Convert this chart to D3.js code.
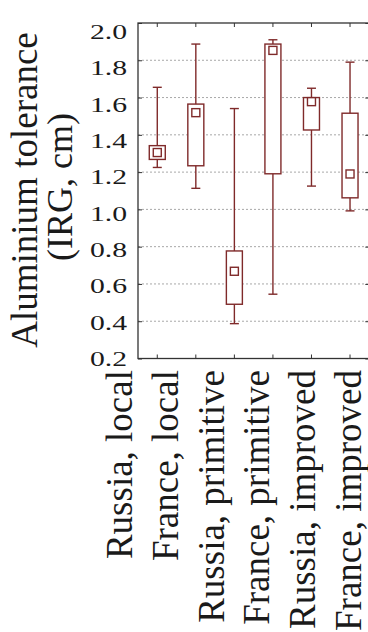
<!DOCTYPE html>
<html>
<head>
<meta charset="utf-8">
<script src="https://cdn.jsdelivr.net/npm/d3@7"></script>
<style>
  body { margin: 0; background: #fff; }
  svg { display: block; font-family: "Liberation Serif", "Times New Roman", serif; }
  svg text { font-family: "Liberation Serif", "Times New Roman", serif; }
</style>
</head>
<body>
<script>
// data
const groups = ["Russia, local", "France, local", "Russia, primitive", "France, primitive", "Russia, improved", "France, improved"];
const whiskerHigh = [1.655, 1.887, 1.541, 1.91, 1.65, 1.79];
const boxHigh = [1.342, 1.565, 0.777, 1.887, 1.60, 1.516];
const medians = [1.305, 1.519, 0.668, 1.853, 1.578, 1.19];
const boxLow = [1.268, 1.234, 0.491, 1.191, 1.426, 1.062];
const whiskerLow = [1.225, 1.113, 0.387, 0.545, 1.125, 0.992];
const yTicks = [0.2, 0.4, 0.6, 0.8, 1.0, 1.2, 1.4, 1.6, 1.8, 2.0];

const width = 368, height = 632;
const plot = { left: 138, right: 369.3, top: 23, bottom: 358.5 };
const boxColor = "#7f2a2a";
const serif = '"Liberation Serif", "Times New Roman", serif';
const boxW = 16, capW = 9, medW = 8;

const svg = d3.select("body").append("svg")
  .attr("width", width)
  .attr("height", height);

const x = d3.scaleBand().domain(groups).range([plot.left, plot.right]);
const y = d3.scaleLinear().domain([0.2, 2.0]).range([plot.bottom, plot.top]);
// tick labels and category labels sit a little off the ticks in the original
const yLab = d3.scaleLinear().domain([0.2, 2.0]).range([358, 31]);
const xLab = d3.scalePoint().domain(groups).range([132, 361]);

// dotted grid
svg.append("g").selectAll("line")
  .data(yTicks.filter(v => v > 0.2 && v < 2.0))
  .join("line")
  .attr("x1", plot.left).attr("x2", plot.right)
  .attr("y1", d => y(d)).attr("y2", d => y(d))
  .attr("stroke", "#a8a8a8")
  .attr("stroke-width", 1)
  .attr("stroke-dasharray", "2,2");

// axes (ticks point inwards)
const gy = svg.append("g")
  .attr("transform", `translate(${plot.left},0)`)
  .call(d3.axisLeft(y).tickValues(yTicks).tickSize(-4).tickFormat(d3.format(".1f")));
gy.select(".domain").remove();
gy.selectAll(".tick line").attr("stroke", "#333");
gy.selectAll(".tick text")
  .attr("x", 0)
  .attr("dy", "0.34em")
  .attr("transform", d => `translate(-11,${yLab(d) - y(d)}) scale(1.35,1)`)
  .attr("fill", "#1a1a1a")
  .style("font-family", serif)
  .style("font-size", "22px");

const gr = svg.append("g")
  .attr("transform", `translate(${plot.right},0)`)
  .call(d3.axisRight(y).tickValues(yTicks).tickSize(-4).tickFormat(""));
gr.select(".domain").remove();
gr.selectAll(".tick line").attr("stroke", "#333");

const gt = svg.append("g")
  .attr("transform", `translate(0,${plot.top})`)
  .call(d3.axisTop(x).tickSize(-4).tickFormat(""));
gt.select(".domain").remove();
gt.selectAll(".tick line").attr("stroke", "#333");

const gb = svg.append("g")
  .attr("transform", `translate(0,${plot.bottom})`)
  .call(d3.axisBottom(x).tickSize(-4).tickFormat(""));
gb.select(".domain").remove();
gb.selectAll(".tick line").attr("stroke", "#333");

// frame
svg.append("rect")
  .attr("x", plot.left).attr("y", plot.top)
  .attr("width", plot.right - plot.left)
  .attr("height", plot.bottom - plot.top)
  .attr("fill", "none")
  .attr("stroke", "#333")
  .attr("stroke-width", 1.3);

// boxes
const stats = groups.map((g, i) => ({
  g, wl: whiskerLow[i], bl: boxLow[i], med: medians[i], bh: boxHigh[i], wh: whiskerHigh[i]
}));

const box = svg.append("g").selectAll("g")
  .data(stats)
  .join("g")
  .attr("transform", d => `translate(${x(d.g) + x.bandwidth() / 2},0)`)
  .attr("stroke", boxColor)
  .attr("stroke-width", 1.4);

box.append("line")
  .attr("x1", 0).attr("x2", 0)
  .attr("y1", d => y(d.wl)).attr("y2", d => y(d.wh));
box.append("line")
  .attr("x1", -capW / 2).attr("x2", capW / 2)
  .attr("y1", d => y(d.wh)).attr("y2", d => y(d.wh));
box.append("line")
  .attr("x1", -capW / 2).attr("x2", capW / 2)
  .attr("y1", d => y(d.wl)).attr("y2", d => y(d.wl));
box.append("rect")
  .attr("x", -boxW / 2)
  .attr("y", d => y(d.bh))
  .attr("width", boxW)
  .attr("height", d => y(d.bl) - y(d.bh))
  .attr("fill", "#fff");
box.append("rect")
  .attr("x", -medW / 2)
  .attr("y", d => y(d.med) - medW / 2)
  .attr("width", medW)
  .attr("height", medW)
  .attr("fill", "#fff");

// category labels
svg.append("g").selectAll("text")
  .data(groups)
  .join("text")
  .attr("transform", d => `translate(${xLab(d)},370) rotate(-90)`)
  .attr("text-anchor", "end")
  .attr("fill", "#1a1a1a")
  .style("font-size", "37px")
  .text(d => d);

// y title
svg.append("text")
  .attr("transform", "translate(37,190) rotate(-90)")
  .attr("text-anchor", "middle")
  .attr("fill", "#1a1a1a")
  .style("font-size", "37px")
  .text("Aluminium tolerance");
svg.append("text")
  .attr("transform", "translate(72,187) rotate(-90)")
  .attr("text-anchor", "middle")
  .attr("fill", "#1a1a1a")
  .style("font-size", "36px")
  .text("(IRG, cm)");
</script>
</body>
</html>
